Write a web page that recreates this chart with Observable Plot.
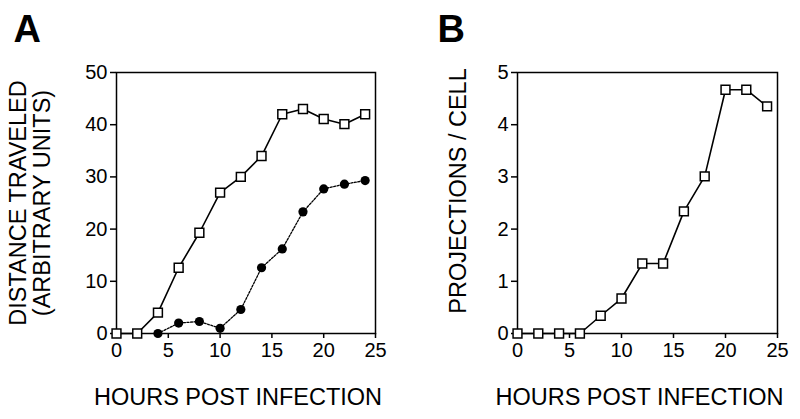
<!DOCTYPE html>
<html>
<head>
<meta charset="utf-8">
<script src="https://cdn.jsdelivr.net/npm/d3@7"></script>
<script src="https://cdn.jsdelivr.net/npm/@observablehq/plot@0.6"></script>
<style>
  html, body { margin: 0; padding: 0; background: white; }
  #wrap { display: flex; width: 800px; height: 419px; }
</style>
</head>
<body>
<div id="wrap"></div>
<script>
// ---- data ----
const hours = [0, 2, 4, 6, 8, 10, 12, 14, 16, 18, 20, 22, 24];
const distanceOpen = [0, 0, 4, 12.6, 19.3, 27, 30, 34, 42, 43, 41.1, 40.1, 42];
const hoursFilled = [4, 6, 8, 10, 12, 14, 16, 18, 20, 22, 24];
const distanceFilled = [0, 2, 2.3, 1, 4.6, 12.6, 16.2, 23.3, 27.7, 28.6, 29.3];
const projections = [0, 0, 0, 0, 0.34, 0.67, 1.34, 1.34, 2.34, 3.01, 4.67, 4.67, 4.35];
const xTicks = [0, 5, 10, 15, 20, 25];
const yTicksA = [0, 10, 20, 30, 40, 50];
const yTicksB = [0, 1, 2, 3, 4, 5];
const xTitle = "HOURS POST INFECTION";
const yTitleA = "DISTANCE TRAVELED\n(ARBITRARY UNITS)";
const yTitleB = "PROJECTIONS / CELL";

const openData = hours.map((h, i) => ({h, v: distanceOpen[i]}));
const filledData = hoursFilled.map((h, i) => ({h, v: distanceFilled[i]}));
const projData = hours.map((h, i) => ({h, v: projections[i]}));

const FONT = "'Liberation Sans', Arial, Helvetica, sans-serif";

function panel({letter, letterDx, yDomain, yTicks, yTitle, yTitleDx, yTitleDy, marginLeft, marginRight, series}) {
  return Plot.plot({
    width: 400,
    height: 419,
    marginLeft,
    marginRight,
    marginTop: 72,
    marginBottom: 86,
    x: {domain: [0, 25]},
    y: {domain: yDomain},
    style: {fontFamily: FONT, fontSize: "20px", color: "black", background: "white", overflow: "visible"},
    marks: [
      Plot.frame({stroke: "black", strokeWidth: 1.5}),
      Plot.axisX({ticks: xTicks, tickSize: 5, tickPadding: 4, strokeWidth: 1.5, label: null, fontSize: 20, tickFormat: d3.format("d")}),
      Plot.axisY({ticks: yTicks, tickSize: 6, tickPadding: 3, strokeWidth: 1.5, label: null, fontSize: 20, tickFormat: d3.format("d")}),
      ...series,
      Plot.text([xTitle], {text: d => d, frameAnchor: "bottom", dy: 64, dx: -8, fontSize: 23.5, lineAnchor: "middle", textAnchor: "middle", fill: "black"}),
      Plot.text([yTitle], {text: d => d, frameAnchor: "left", rotate: -90, dx: yTitleDx, dy: yTitleDy, fontSize: 23.5, lineAnchor: "middle", textAnchor: "middle", lineHeight: 1.03, fill: "black"}),
      Plot.text([letter], {text: d => d, frameAnchor: "top-left", dx: letterDx, dy: -43, fontSize: 38, fontWeight: "bold", lineAnchor: "middle", textAnchor: "start", fill: "black"})
    ]
  });
}

const panelA = panel({
  letter: "A",
  letterDx: -103,
  yDomain: [0, 50],
  yTicks: yTicksA,
  yTitle: yTitleA,
  yTitleDx: -86,
  yTitleDy: 0,
  marginLeft: 116,
  marginRight: 25,
  series: [
    Plot.line(filledData, {x: "h", y: "v", stroke: "black", strokeWidth: 1.3, strokeDasharray: "2,1.5"}),
    Plot.line(openData, {x: "h", y: "v", stroke: "black", strokeWidth: 1.6}),
    Plot.dot(filledData, {x: "h", y: "v", r: 4.6, fill: "black", stroke: "none"}),
    Plot.dot(openData, {x: "h", y: "v", symbol: "square", r: 5, fill: "white", stroke: "black", strokeWidth: 1.5})
  ]
});

const panelB = panel({
  letter: "B",
  letterDx: -80,
  yDomain: [0, 5],
  yTicks: yTicksB,
  yTitle: yTitleB,
  yTitleDx: -59,
  yTitleDy: -12,
  marginLeft: 117,
  marginRight: 23,
  series: [
    Plot.line(projData, {x: "h", y: "v", stroke: "black", strokeWidth: 1.6}),
    Plot.dot(projData, {x: "h", y: "v", symbol: "square", r: 5, fill: "white", stroke: "black", strokeWidth: 1.5})
  ]
});

document.getElementById("wrap").append(panelA, panelB);
</script>
</body>
</html>
